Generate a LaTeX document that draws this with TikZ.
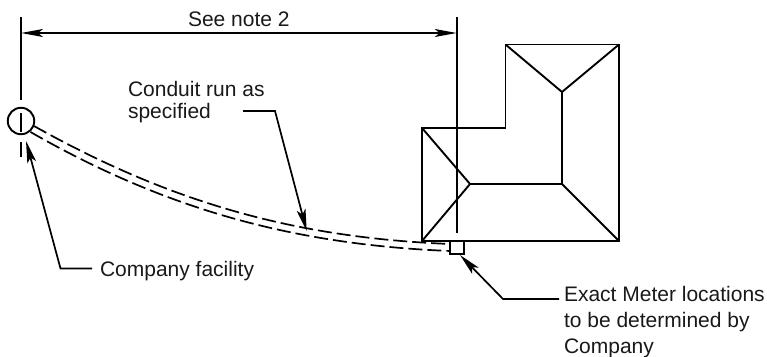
\documentclass[tikz,border=0pt]{standalone}
\usepackage{fontspec}
\setmainfont{Liberation Sans}
\usetikzlibrary{arrows.meta}
\tikzset{
  x=1pt,y=-1pt,
  ln/.style={line width=1.9pt,black},
  thin ln/.style={line width=1.7pt,black},
  tip/.style={-{Stealth[length=22pt,width=9pt,inset=5pt]}},
  lbl/.style={inner sep=0pt,outer sep=0pt,anchor=base west,align=left,text=black!90,font=\fontsize{21}{22}\selectfont},
  pipe/.style={line width=1.7pt,black,dash pattern=on 14pt off 5pt},
}
\begin{document}
\begin{tikzpicture}
\useasboundingbox (0,0) rectangle (767,356);
% roof
\coordinate (r1) at (422,128); \coordinate (r2) at (505.5,128); \coordinate (r3) at (505.5,44.5);
\coordinate (r4) at (619,44.5); \coordinate (r5) at (619,241); \coordinate (r6) at (422,241);
\coordinate (p1) at (562,92); \coordinate (p2) at (562,184); \coordinate (p3) at (470,184);
\draw[ln,line join=miter] (r1)--(r2)--(r3)--(r4)--(r5)--(r6)--cycle;
\draw[ln] (r3)--(p1)--(r4) (p1)--(p2)--(r5) (p2)--(p3)--(r1) (p3)--(r6);
% facility and meter
\node[draw,ln,circle,minimum size=26.5pt,inner sep=0pt] (fac) at (21,121) {};
\node[draw,ln,rectangle,minimum size=13.5pt,inner sep=0pt] (mtr) at (457,247.5) {};
% centre and extension lines
\coordinate (e1) at (21,17); \coordinate (e2) at (21,100);
\coordinate (e3) at (456.7,17); \coordinate (e4) at (456.7,233);
\coordinate (c1) at (21,113); \coordinate (c2) at (21,132);
\coordinate (c3) at (21,142); \coordinate (c4) at (21,157);
\draw[ln] (e1)--(e2) (e3)--(e4) (c1)--(c2) (c3)--(c4);
% dimension
\coordinate (d1) at (21,33); \coordinate (d2) at (456.7,33);
\draw[ln,{Stealth[length=22pt,width=8pt,inset=5pt]}-{Stealth[length=22pt,width=8pt,inset=5pt]}] (d1)--(d2);
\node[lbl] (note) at (188,26) {See note 2};
% conduit
\coordinate (pa) at (34,126); \coordinate (pb) at (30.5,132);
\coordinate (qa) at (450.3,244); \coordinate (qb) at (450.3,251);
\draw[pipe] (pa) .. controls (175,205) and (300,238) .. (qa);
\draw[pipe] (pb) .. controls (170,212) and (300,245) .. (qb);
% labels
\node[lbl] (cond1) at (128,96.7) {Conduit run as};
\node[lbl] (cond2) at (128,118.3) {specified};
\node[lbl] (comp) at (100,276) {Company facility};
\node[lbl] (m1) at (564,301.7) {Exact Meter locations};
\node[lbl] (m2) at (564,327.5) {to be determined by};
\node[lbl] (m3) at (564,353) {Company};
% leaders
\coordinate (l1) at (243,111); \coordinate (l2) at (275,111); \coordinate (lt1) at (306.7,231);
\draw[thin ln,tip] (l1)--(l2)--(lt1);
\coordinate (l3) at (92,268.5); \coordinate (l4) at (60.5,268.5); \coordinate (lt2) at (26,141);
\draw[thin ln,tip] (l3)--(l4)--(lt2);
\coordinate (l5) at (559,299); \coordinate (l6) at (503,299); \coordinate (lt3) at (460,255);
\draw[thin ln,tip] (l5)--(l6)--(lt3);
\end{tikzpicture}
\end{document}
